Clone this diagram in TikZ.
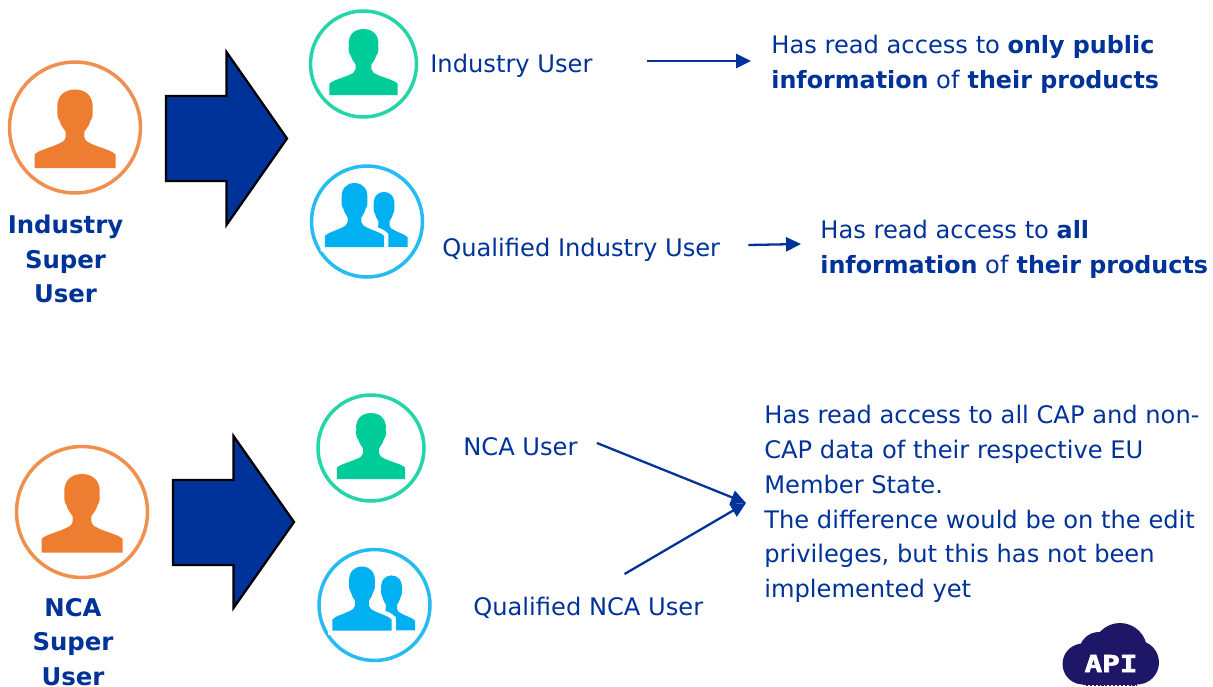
\documentclass[tikz,border=0pt]{standalone}
\usepackage{fontspec}
\setmainfont[BoldFeatures={Scale=0.985}]{DejaVu Sans}
\newfontfamily\apifont[BoldFeatures={FakeBold=2.4}]{DejaVu Sans Mono}
\usetikzlibrary{arrows.meta}

\definecolor{eublue}{HTML}{003399}
\definecolor{superorange}{HTML}{ED7D31}
\definecolor{usergreen}{HTML}{00CC99}
\definecolor{qualblue}{HTML}{00B0F0}
\definecolor{cloudnavy}{HTML}{1E1666}

\tikzset{
	ring/.style={circle, draw=#1, line width=2pt, inner sep=0pt},
	label/.style={text=eublue, inner sep=0pt, anchor=west, align=left, font=\fontsize{13.75}{19.8}\selectfont},
	superlabel/.style={text=eublue, inner sep=0pt, align=center, font=\fontsize{14.1}{19.7}\selectfont\bfseries},
	flow/.style={draw=eublue, line width=1.3pt, -{Triangle[length=8.5pt,width=8pt]}},
	bigarrow/.style={draw=black, line width=1.3pt, fill=eublue, line join=miter}
}

% one head and shoulders, drawn around #1
\newcommand{\personfig}[4]{
	\path[#4, shift={(#1)}, xscale=#2, yscale=#3] (-40.5,40.5) -- (-40.5,27)
		.. controls (-36,22) and (-22,20) .. (-12,14)
		.. controls (-9,12) and (-9,8) .. (-9.5,4)
		.. controls (-12,0) and (-15,-3) .. (-15.5,-7)
		.. controls (-18,-9) and (-18,-16) .. (-17.5,-18)
		.. controls (-19,-31) and (-11,-38) .. (0,-38)
		.. controls (11,-38) and (19,-31) .. (17.5,-18)
		.. controls (18,-16) and (18,-9) .. (15.5,-7)
		.. controls (15,-3) and (12,0) .. (9.5,4)
		.. controls (9,8) and (9,12) .. (12,14)
		.. controls (22,20) and (36,22) .. (40.5,27)
		-- (40.5,40.5) -- cycle;
}
% the same, twice: a small one behind a large one
\newcommand{\groupfig}[2]{
	\personfig{#1+17,#2-3}{0.585}{0.70}{fill=qualblue}
	\personfig{#1-12.5,#2-7.5}{0.73}{0.815}{fill=qualblue, draw=white, line width=5pt}
	\personfig{#1-12.5,#2-7.5}{0.73}{0.815}{fill=qualblue}
}

\begin{document}
\begin{tikzpicture}[x=0.02cm, y=-0.02cm]
	\useasboundingbox (0,0) rectangle (1213,686);

	% industry side
	\node[ring=superorange!85, minimum size=2.62cm] (indsuper) at (75,127.5) {};
	\personfig{75,127.5}{1}{1}{fill=superorange}
	\node[superlabel] (indsuperlabel) at (65.5,259) {Industry\\Super\\User};
	\draw[bigarrow] (166,96) -- (226.5,96) -- (226.5,52) -- (287,138.5) -- (226.5,225) -- (226.5,181) -- (166,181) -- cycle;

	\node[ring=usergreen!85, minimum size=2.12cm] (induser) at (363.5,64) {};
	\personfig{363.5,61}{0.84}{0.84}{fill=usergreen}
	\node[label] (induserlabel) at (430,65.5) {Industry User};
	\node[label] (indinfo) at (771,64.5) {Has read access to \textbf{only public}\\\textbf{information} of \textbf{their products}};
	\draw[flow] ([shift={(54,-4.5)}]induserlabel.east) -- ([shift={(-20,-3.5)}]indinfo.west);

	\node[ring=qualblue!85, minimum size=2.22cm] (indqual) at (367,221.5) {};
	\groupfig{367}{221.5}
	\node[label] (indquallabel) at (442,250) {Qualified Industry User};
	\node[label] (indqualinfo) at (820,249) {Has read access to \textbf{all}\\\textbf{information} of \textbf{their products}};
	\draw[flow] ([shift={(28,-5)}]indquallabel.east) -- ([shift={(-19,-5)}]indqualinfo.west);

	% nca side
	\node[ring=superorange!85, minimum size=2.62cm] (ncasuper) at (82,512) {};
	\personfig{82,512}{1}{1}{fill=superorange}
	\node[superlabel] (ncasuperlabel) at (73,642) {NCA\\Super\\User};
	\draw[bigarrow] (173,480) -- (233.5,480) -- (233.5,436) -- (294,522) -- (233.5,608) -- (233.5,565) -- (173,565) -- cycle;

	\node[ring=usergreen!85, minimum size=2.12cm] (ncauser) at (371,448) {};
	\personfig{371,445}{0.84}{0.84}{fill=usergreen}
	\node[label] (ncauserlabel) at (463,447) {NCA User};

	\node[ring=qualblue!85, minimum size=2.22cm] (ncaqual) at (374.5,605) {};
	\groupfig{374.5}{605}
	\node[label] (ncaquallabel) at (473,608) {Qualified NCA User};

	\node[label] (ncainfo) at (764,504) {Has read access to all CAP and non-\\CAP data of their respective EU\\Member State.\\The difference would be on the edit\\privileges, but this has not been\\implemented yet};
	\coordinate (merge) at (746,503);
	\draw[flow] ([shift={(19,-4)}]ncauserlabel.east) -- (merge);
	\draw[flow] ([shift={(-79,-34)}]ncaquallabel.east) -- (merge);

	% cloud
	\fill[cloudnavy] (1083,664) circle [radius=20.5];
	\fill[cloudnavy] (1099,652) circle [radius=20];
	\fill[cloudnavy] (1120,650) circle [radius=27];
	\fill[cloudnavy] (1137,662.5) circle [radius=22];
	\fill[cloudnavy] (1083,650) rectangle (1137,684.5);
	\draw[cloudnavy, line width=0.8pt, dash pattern=on 1.2pt off 1pt] (1086,685.5) -- (1137,685.5);
	\node[text=white, inner sep=0pt, xscale=1.25, font=\apifont\fontsize{13.3}{14}\selectfont\bfseries] (api) at (1111,663.5) {API};
\end{tikzpicture}
\end{document}
